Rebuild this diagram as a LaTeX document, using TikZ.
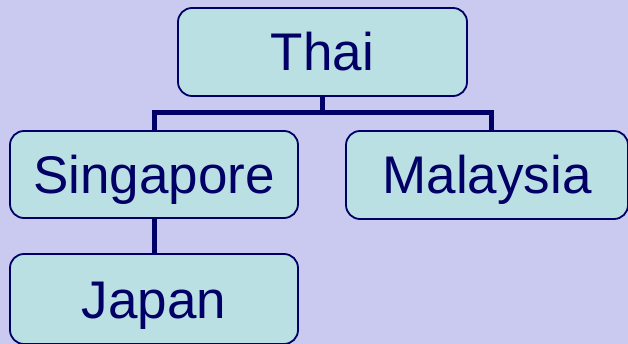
\documentclass[tikz,border=0pt]{standalone}
\usepackage{fontspec}
\setmainfont{Liberation Sans}
\definecolor{bgc}{RGB}{202,202,240}
\definecolor{boxfill}{RGB}{186,224,227}
\definecolor{navy}{RGB}{0,0,102}
\begin{document}
\begin{tikzpicture}[x=1pt,y=-1pt,
  orgbox/.style={draw=navy, line width=1.8pt, fill=boxfill, rounded corners=14pt,
    text=navy, inner sep=0pt, text height=38pt, text depth=0pt,
    font=\fontsize{53}{60}\selectfont},
  conn/.style={draw=navy, line width=5pt}]
\fill[bgc] (0,0) rectangle (628,344);
\useasboundingbox (0,0) rectangle (628,344);
\node[orgbox, minimum width=289pt, minimum height=88pt] (thai) at (322.5,52) {Thai};
\node[orgbox, minimum width=288pt, minimum height=87pt] (sing) at (154,174.5) {Singapore};
\node[orgbox, minimum width=282pt, minimum height=88pt] (mal) at (487,175) {Malaysia};
\node[orgbox, minimum width=288pt, minimum height=90pt] (japan) at (154,299) {Japan};
\coordinate (bar) at (0,113);
\coordinate (malc) at (491,131);
\draw[conn] (thai.south) -- (thai.south |- bar);
\draw[conn] (sing.north) -- (sing.north |- bar) -- (malc |- bar) -- (malc);
\draw[conn] (sing.south) -- (japan.north);
\end{tikzpicture}
\end{document}
